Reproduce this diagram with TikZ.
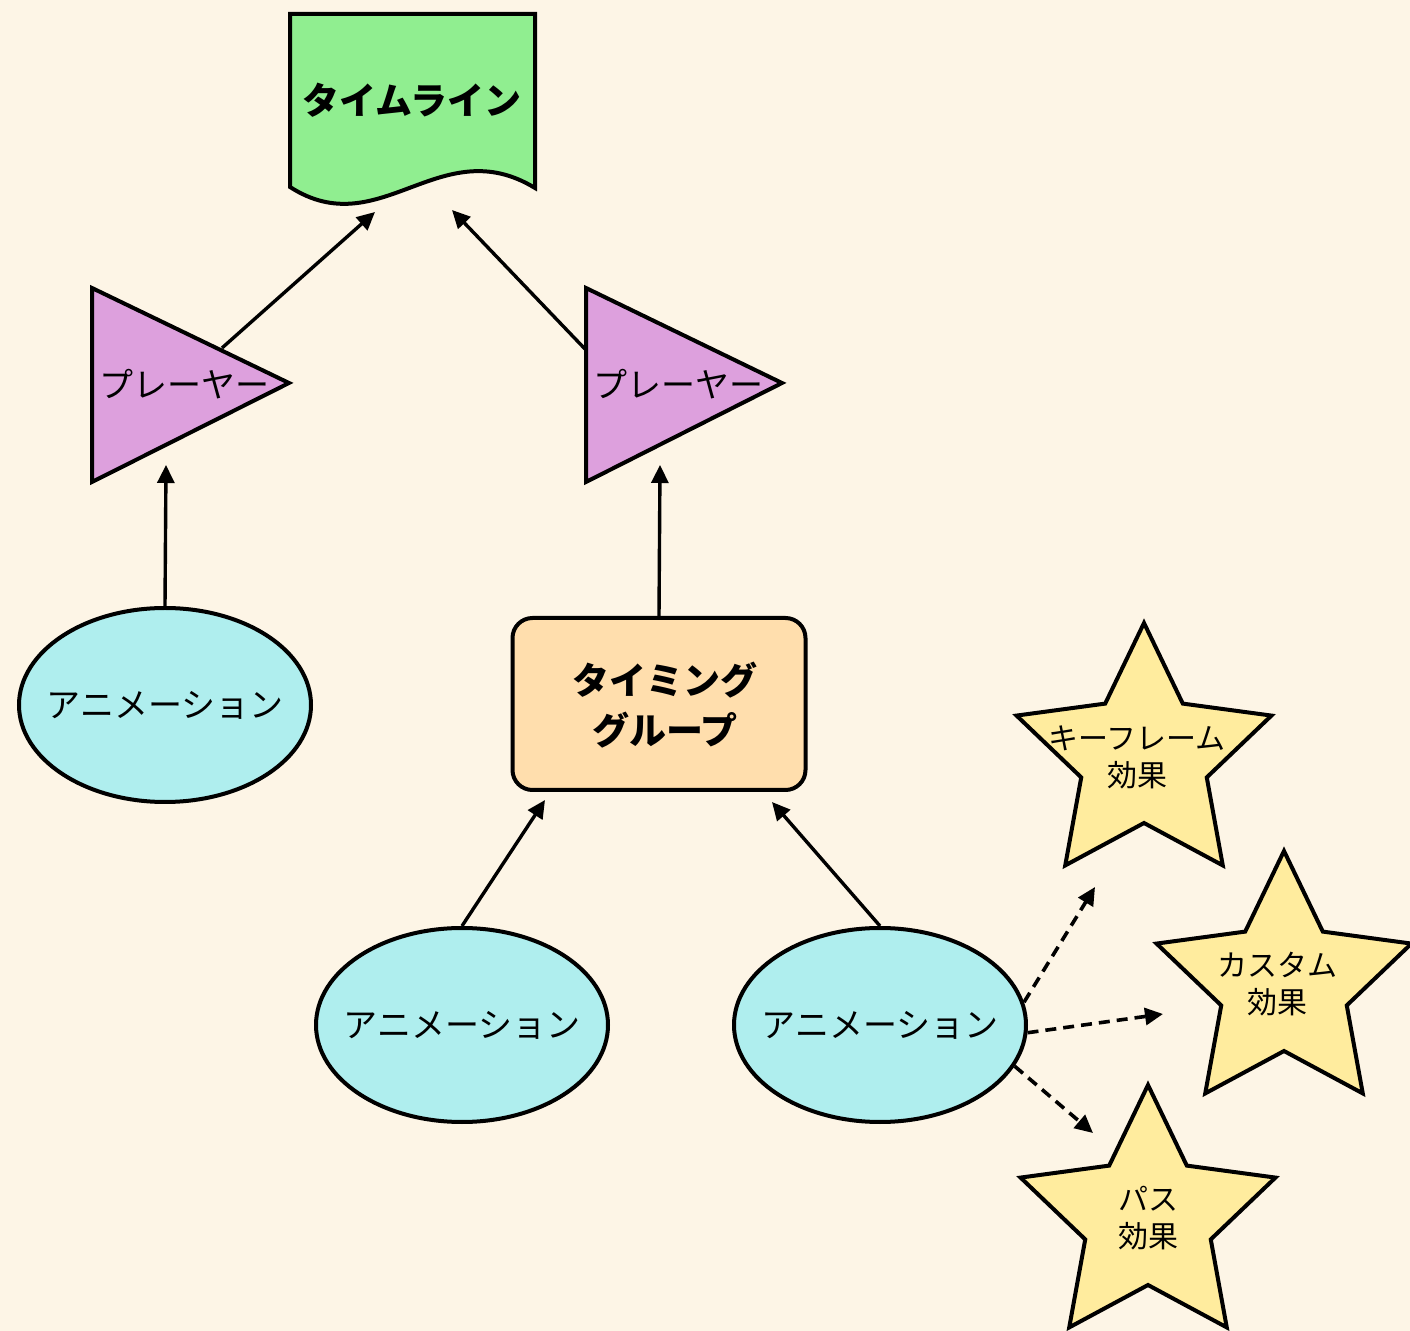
\documentclass[tikz,border=0pt]{standalone}
\usepackage{fontspec}
\setmainfont{Noto Sans CJK JP}
\usetikzlibrary{arrows.meta,shapes.geometric}
\definecolor{bgc}{HTML}{FDF5E6}
\definecolor{tlgreen}{HTML}{90EE90}
\definecolor{plumc}{HTML}{DDA0DD}
\definecolor{turq}{HTML}{AFEEEE}
\definecolor{navajo}{HTML}{FFDEAD}
\definecolor{stary}{HTML}{FFEC9E}
\tikzset{
 outline/.style={draw=black, line width=2pt},
 anim/.style={outline, ellipse, fill=turq, minimum width=146pt, minimum height=97pt, inner sep=0pt, font=\fontsize{17pt}{20pt}\selectfont},
 plainlabel/.style={font=\fontsize{17pt}{20pt}\selectfont, inner sep=0pt},
 boldlabel/.style={font=\fontsize{18.5pt}{25pt}\selectfont\bfseries, align=center, inner sep=0pt},
 starlabel/.style={font=\fontsize{15pt}{18.5pt}\selectfont, align=center, inner sep=0pt},
 arr/.style={line width=1.7pt, -{Triangle[length=9pt,width=8.5pt]}},
 darr/.style={arr, line width=1.8pt, dash pattern=on 5.5pt off 3.5pt},
 starfill/.style={outline, fill=stary, line join=miter},
}
\newcommand\drawmystar[1]{%
 \draw[starfill, shift={(#1)}] (-90:134) -- (-54:66) -- (-18:134) -- (18:66) -- (54:134) -- (90:66) -- (126:134) -- (162:66) -- (198:134) -- (234:66) -- cycle;}
\begin{document}
\begin{tikzpicture}[x=0.5pt,y=-0.5pt]
\fill[bgc] (0,0) rectangle (1410,1331);
\useasboundingbox (0,0) rectangle (1410,1331);

% timeline document shape
\draw[outline, fill=tlgreen] (290,14) -- (535,14) -- (535,188) .. controls (440,130) and (380,245) .. (290,187) -- cycle;
\node[boldlabel] (tl) at (412,100) {タイムライン};

% players
\draw[outline, fill=plumc] (92,288) -- (289,383) -- (92,482) -- cycle;
\node[plainlabel] (p1) at (184,384) {プレーヤー};
\draw[outline, fill=plumc] (586,288) -- (782,383) -- (586,482) -- cycle;
\node[plainlabel] (p2) at (678,384) {プレーヤー};

% animations
\node[anim] (a1) at (165,705) {\makebox[0pt]{アニメーション}};
\node[anim] (a2) at (462,1025) {\makebox[0pt]{アニメーション}};
\node[anim] (a3) at (880,1025) {\makebox[0pt]{アニメーション}};

% timing group
\node[outline, fill=navajo, rounded corners=10pt, minimum width=146.5pt, minimum height=86pt, inner sep=0pt] (tg) at (659,704) {};
\node[boldlabel] (tgt) at (665,705) {タイミング\\グループ};

% stars
\drawmystar{1144,757}
\node[starlabel] (s1) at (1137,757) {キーフレーム\\効果};
\drawmystar{1284,985}
\node[starlabel] (s2) at (1277,984) {カスタム\\効果};
\drawmystar{1148,1219}
\node[starlabel] (s3) at (1148,1218) {パス\\効果};

% connector end points
\coordinate (tlL) at (375,212);
\coordinate (tlR) at (452,210);
\coordinate (p1s) at (222,348);
\coordinate (p2s) at (585,349);
\coordinate (p1b) at (166,465);
\coordinate (p2b) at (660,465);
\coordinate (tgL) at (545,800);
\coordinate (tgR) at (772,802);
\coordinate (k1) at (1095,887);
\coordinate (c1) at (1163,1014);
\coordinate (b1) at (1093,1133);

\draw[arr] (p1s) -- (tlL);
\draw[arr] (p2s) -- (tlR);
\draw[arr] (a1.north) -- (p1b);
\draw[arr] (tg.north) -- (p2b);
\draw[arr] (a2.north) -- (tgL);
\draw[arr] (a3.north) -- (tgR);
\draw[darr] (a3.9) -- (k1);
\draw[darr] (a3.-3) -- (c1);
\draw[darr] (a3.-17) -- (b1);
\end{tikzpicture}
\end{document}
